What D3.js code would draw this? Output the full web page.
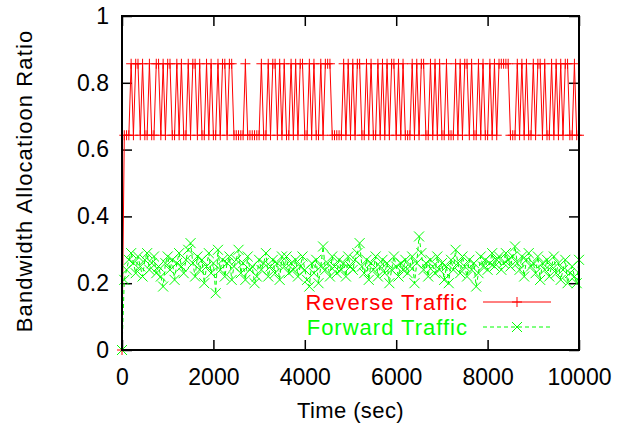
<!DOCTYPE html>
<html>
<head>
<meta charset="utf-8">
<script src="https://cdn.jsdelivr.net/npm/d3@7"></script>
<style>
body { margin: 0; background: #fff; }
svg text { font-family: "Liberation Sans", Arial, sans-serif; font-size: 22px; }
</style>
</head>
<body>
<svg id="chart" width="618" height="425"></svg>
<script>
var step = 50;
var H = 0.857, L = 0.643;
var reverseTraffic = [0,
    L, L, L, H, L, H, H, L, H, L,
    L, H, L, L, H, H, L, H, L, H,
    H, L, L, H, L, H, L, L, H, L,
    H, H, L, H, L, L, H, L, H, L,
    L, H, L, H, H, L, H, H, L, L,
    L, L, L, H, L, L, L, L, L, L,
    H, L, L, H, L, H, H, L, H, L,
    H, L, L, H, L, H, L, H, H, L,
    L, H, L, H, L, L, H, L, H, H,
    H, L, L, L, L, L, H, L, H, L,
    H, L, H, H, L, L, H, L, H, L,
    L, H, L, H, L, H, L, H, H, L,
    H, L, H, L, L, L, H, L, H, L,
    H, H, L, L, H, L, H, L, H, L,
    L, H, L, L, L, H, L, H, L, H,
    H, L, H, L, L, H, L, H, L, L,
    H, L, H, L, H, H, H, H, H, L,
    L, L, H, L, H, L, H, L, L, H,
    L, H, H, L, H, L, L, H, L, H,
    L, H, L, H, H, L, L, H, L, L];
var forwardTraffic = [0,
    .21, .24, .27, .29, .26, .23, .28, .25, .22, .27,
    .29, .24, .26, .28, .23, .25, .22, .19, .26, .28,
    .24, .27, .21, .26, .29, .25, .23, .27, .30, .32,
    .26, .22, .28, .24, .27, .20, .25, .29, .23, .26,
    .17, .30, .24, .27, .22, .26, .28, .21, .25, .27,
    .30, .23, .26, .21, .28, .24, .25, .20, .22, .27,
    .24, .26, .29, .22, .25, .27, .23, .26, .21, .28,
    .25, .28, .23, .26, .24, .27, .22, .25, .28, .24,
    .21, .19, .26, .23, .27, .20, .25, .31, .24, .26,
    .22, .28, .25, .23, .27, .24, .26, .22, .28, .25,
    .24, .27, .29, .32, .25, .23, .27, .21, .26, .24,
    .28, .22, .25, .27, .23, .26, .20, .24, .28, .25,
    .22, .26, .24, .27, .23, .25, .28, .20, .26, .34,
    .29, .24, .26, .22, .27, .25, .23, .28, .24, .26,
    .21, .25, .20, .27, .24, .30, .26, .23, .28, .25,
    .22, .27, .24, .26, .19, .23, .28, .25, .27, .24,
    .26, .29, .25, .27, .28, .24, .26, .29, .27, .25,
    .28, .31, .26, .24, .28, .22, .27, .29, .25, .26,
    .23, .28, .21, .26, .24, .27, .22, .25, .28, .23,
    .26, .21, .24, .27, .20, .23, .25, .22, .20, .27];
var xTicks = [0, 2000, 4000, 6000, 8000, 10000];
var xTickLabels = ["0", "2000", "4000", "6000", "8000", "10000"];
var yTicks = [0, 0.2, 0.4, 0.6, 0.8, 1];
var yTickLabels = ["0", "0.2", "0.4", "0.6", "0.8", "1"];
var seriesNames = ["Reverse Traffic", "Forward Traffic"];
var seriesColors = ["#ff0000", "#00ff00"];

var svg = d3.select("#chart");
var plotLeft = 122, plotRight = 579, plotTop = 16, plotBottom = 350;
var x = d3.scaleLinear().domain([0, 10000]).range([plotLeft, plotRight]);
var y = d3.scaleLinear().domain([0, 1]).range([plotBottom, plotTop]);

var toPoints = function(values) {
    return values.map(function(v, i) { return [i * step, v]; });
};

var drawAxis = function(axis, tx, ty) {
    var g = svg.append("g")
	.attr("transform", "translate(" + tx + "," + ty + ")")
	.call(axis);
    g.select(".domain").remove();
    g.selectAll(".tick line").attr("stroke", "#000").attr("stroke-width", 1.5);
    g.selectAll(".tick text").attr("fill", "#000").style("font-size", "23px")
	.style("font-family", "'Liberation Sans', Arial, sans-serif");
    return g;
};

drawAxis(d3.axisBottom(x).tickValues(xTicks).tickSize(-10).tickPadding(19)
	 .tickFormat(function(d, i) { return xTickLabels[i]; }), 0, plotBottom);
drawAxis(d3.axisTop(x).tickValues(xTicks).tickSize(-10).tickFormat(""), 0, plotTop);
drawAxis(d3.axisLeft(y).tickValues(yTicks).tickSize(-10).tickPadding(13)
	 .tickFormat(function(d, i) { return yTickLabels[i]; }), plotLeft, 0);
drawAxis(d3.axisRight(y).tickValues(yTicks).tickSize(-10).tickFormat(""), plotRight, 0);

var line = d3.line()
    .x(function(d) { return x(d[0]); })
    .y(function(d) { return y(d[1]); });

var plus = function(g, px, py, color) {
    g.append("path")
	.attr("d", "M" + (px - 5) + "," + py + "H" + (px + 5) + "M" + px + "," + (py - 5) + "V" + (py + 5))
	.attr("stroke", color).attr("stroke-width", 1).attr("fill", "none");
};
var cross = function(g, px, py, color) {
    g.append("path")
	.attr("d", "M" + (px - 5) + "," + (py - 5) + "L" + (px + 5) + "," + (py + 5)
	      + "M" + (px - 5) + "," + (py + 5) + "L" + (px + 5) + "," + (py - 5))
	.attr("stroke", color).attr("stroke-width", 1).attr("fill", "none");
};

var series = [
    { values: reverseTraffic, color: seriesColors[0], dash: null, mark: plus },
    { values: forwardTraffic, color: seriesColors[1], dash: "4,3", mark: cross }
];

series.forEach(function(s, k) {
    var pts = toPoints(s.values);
    var g = svg.append("g");
    g.append("path")
	.attr("d", line(pts))
	.attr("fill", "none")
	.attr("stroke", s.color)
	.attr("stroke-width", 1)
	.attr("stroke-dasharray", s.dash);
    pts.forEach(function(p) { s.mark(g, x(p[0]), y(p[1]), s.color); });

    // key entry
    var ky = 302 + k * 25;
    svg.append("text")
	.attr("x", 468).attr("y", ky + 8)
	.attr("text-anchor", "end")
	.attr("fill", s.color)
	.style("letter-spacing", "1px")
	.text(seriesNames[k]);
    svg.append("path")
	.attr("d", "M483," + ky + "H551")
	.attr("stroke", s.color).attr("stroke-width", 1)
	.attr("stroke-dasharray", s.dash);
    s.mark(svg, 517, ky, s.color);
});

svg.append("rect")
    .attr("x", plotLeft).attr("y", plotTop)
    .attr("width", plotRight - plotLeft).attr("height", plotBottom - plotTop)
    .attr("fill", "none").attr("stroke", "#000").attr("stroke-width", 2);

svg.append("text")
    .attr("x", (plotLeft + plotRight) / 2).attr("y", 418)
    .attr("text-anchor", "middle")
    .style("letter-spacing", "0.4px")
    .text("Time (sec)");
svg.append("text")
    .attr("transform", "translate(32,181) rotate(-90)")
    .attr("text-anchor", "middle")
    .style("letter-spacing", "1.1px")
    .text("Bandwidth Allocatioon Ratio");
</script>
</body>
</html>
